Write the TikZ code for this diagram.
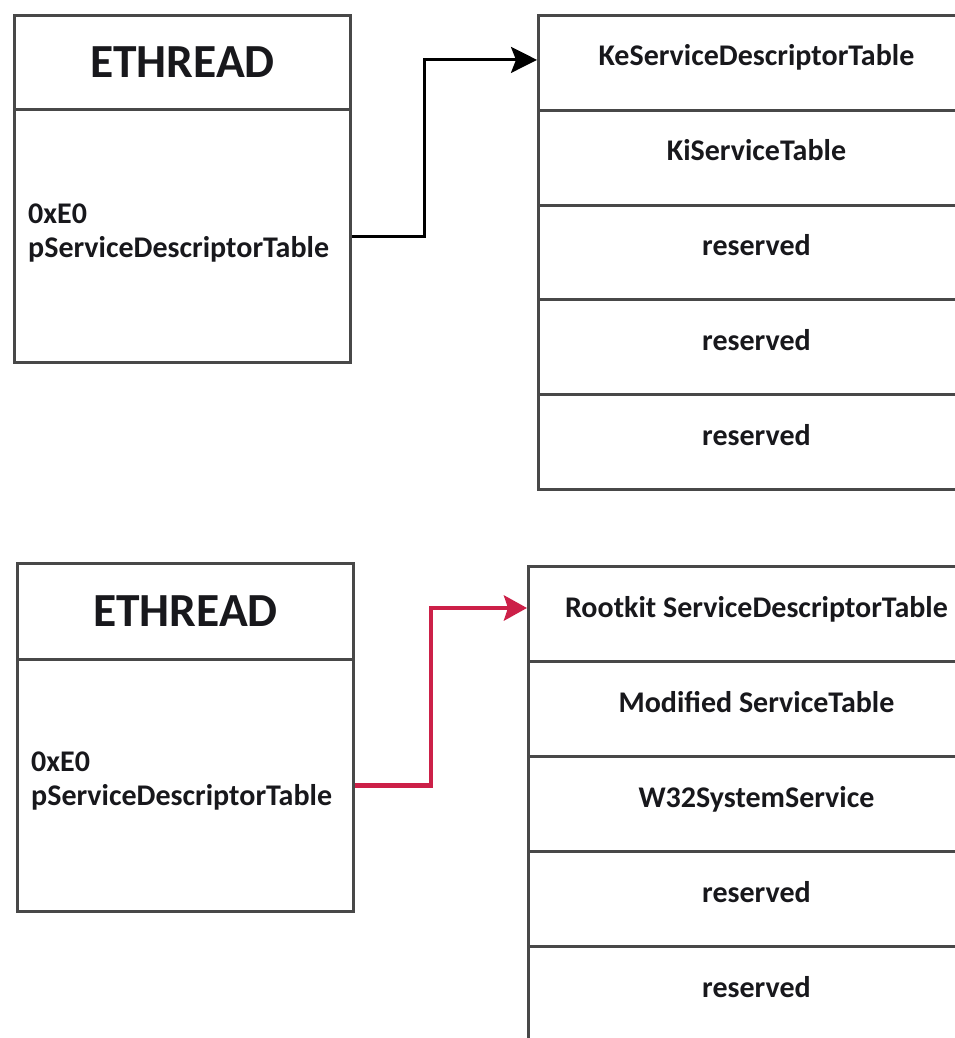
\documentclass[tikz,border=0pt]{standalone}
\usepackage{fontspec}
\setmainfont{Carlito}
\usetikzlibrary{arrows.meta,calc}
\definecolor{boxgray}{RGB}{72,72,72}
\definecolor{txt}{RGB}{24,24,28}
\definecolor{hookred}{RGB}{204,32,72}
\begin{document}
\begin{tikzpicture}[x=1pt,y=-1pt,
  cell/.style={draw=boxgray, line width=3pt, anchor=north west, inner sep=0pt, text=txt,
    font=\fontsize{30}{36}\selectfont\bfseries},
  rowcell/.style={cell, text height=6pt, text depth=0pt},
  headcell/.style={cell, font=\fontsize{47.5}{56}\selectfont\bfseries},
  ptrtext/.style={anchor=west, align=left, inner sep=0pt, text=txt,
    font=\fontsize{30}{34}\selectfont\bfseries},
  blackarrow/.style={draw=black, line width=3pt, -{Stealth[length=26pt,width=26pt,inset=5pt]}},
  redarrow/.style={draw=hookred, line width=4.5pt, -{Stealth[length=23pt,width=25pt,inset=4pt]}}
]
\useasboundingbox (0,0) rectangle (955,1038);
\clip (0,0) rectangle (955,1038);
\fill[white] (0,0) rectangle (955,1038);

% ---- top: original ----
\node[headcell, minimum width=336pt, minimum height=94pt] (head1) at (13,14) {ETHREAD};
\node[cell, minimum width=336pt, minimum height=253pt] (body1) at (13,108) {};
\node[ptrtext] (ptr1) at (28,233) {0xE0\\pServiceDescriptorTable};

\node[rowcell, minimum width=436pt, minimum height=94.8pt] (r1a) at (537,14) {KeServiceDescriptorTable};
\node[rowcell, minimum width=436pt, minimum height=94.8pt] (r1b) at (537,108.8) {KiServiceTable};
\node[rowcell, minimum width=436pt, minimum height=94.8pt] (r1c) at (537,203.6) {reserved};
\node[rowcell, minimum width=436pt, minimum height=94.8pt] (r1d) at (537,298.4) {reserved};
\node[rowcell, minimum width=436pt, minimum height=94.8pt] (r1e) at (537,393.2) {reserved};

\draw[blackarrow] (body1.east) -- ++(72,0) |- ([yshift=3pt]r1a.west);

% ---- bottom: hooked ----
\node[headcell, minimum width=336pt, minimum height=96pt] (head2) at (16,562) {ETHREAD};
\node[cell, minimum width=336pt, minimum height=252pt] (body2) at (16,658) {};
\node[ptrtext] (ptr2) at (31,781) {0xE0\\pServiceDescriptorTable};

\node[rowcell, minimum width=456pt, minimum height=95pt] (r2a) at (527,565) {Rootkit ServiceDescriptorTable};
\node[rowcell, minimum width=456pt, minimum height=95pt] (r2b) at (527,660) {Modified ServiceTable};
\node[rowcell, minimum width=456pt, minimum height=95pt] (r2c) at (527,755) {W32SystemService};
\node[rowcell, minimum width=456pt, minimum height=95pt] (r2d) at (527,850) {reserved};
\node[rowcell, minimum width=456pt, minimum height=95pt] (r2e) at (527,945) {reserved};

\draw[redarrow] (body2.east) -- ++(76,0) |- ([yshift=6pt]r2a.west);
\end{tikzpicture}
\end{document}
